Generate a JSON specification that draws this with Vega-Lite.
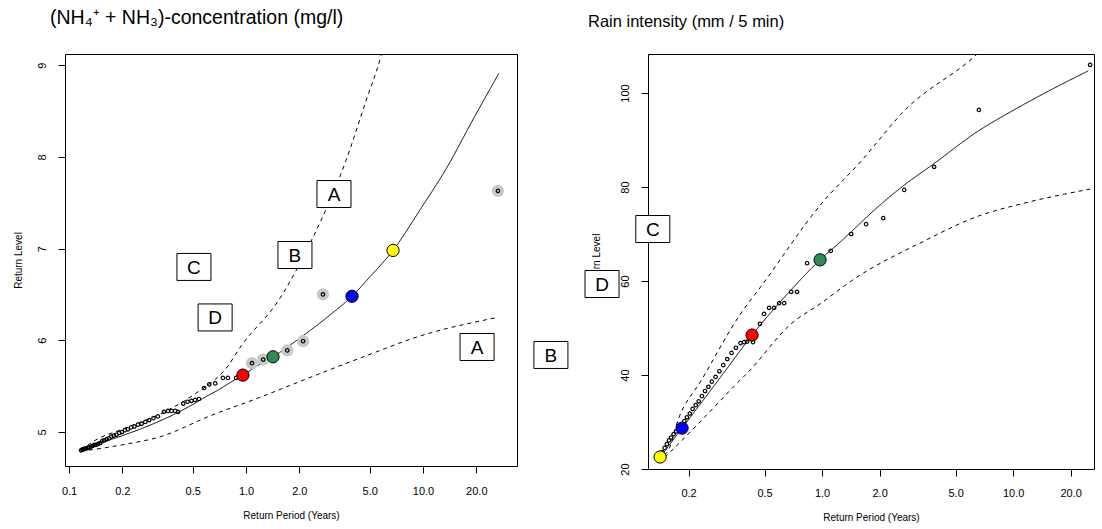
{
  "$schema": "https://vega.github.io/schema/vega-lite/v6.json",
  "padding": {"left": 12, "top": 7, "right": 0, "bottom": 0},
  "background": "white",
  "spacing": 131,
  "bounds": "flush",
  "resolve": {"scale": {"x": "independent", "y": "independent", "fill": "independent", "strokeDash": "independent"}},
  "config": {
    "view": {"stroke": "black", "strokeWidth": 1},
    "font": "Liberation Sans",
    "axis": {
      "domain": false, "grid": false, "ticks": true, "tickColor": "black", "tickSize": 7, "tickWidth": 1,
      "labelFont": "Liberation Sans", "labelFontSize": 11, "labelColor": "black", "labelFlush": false, "labelOverlap": false, "labelBound": false,
      "titleFont": "Liberation Sans", "titleFontSize": 10, "titleFontWeight": "normal", "titleColor": "black"
    },
    "title": {"font": "Liberation Sans", "fontWeight": "normal", "color": "black"}
  },
  "datasets": {
    "left_lines": [
      {"series": "fit", "T": 0.117, "v": 4.81}, {"series": "fit", "T": 0.15, "v": 4.88}, {"series": "fit", "T": 0.2, "v": 4.96},
      {"series": "fit", "T": 0.3, "v": 5.09}, {"series": "fit", "T": 0.4, "v": 5.2}, {"series": "fit", "T": 0.5, "v": 5.3},
      {"series": "fit", "T": 0.6, "v": 5.39}, {"series": "fit", "T": 0.7, "v": 5.46}, {"series": "fit", "T": 0.8, "v": 5.53},
      {"series": "fit", "T": 0.96, "v": 5.62}, {"series": "fit", "T": 1.2, "v": 5.74}, {"series": "fit", "T": 1.42, "v": 5.82},
      {"series": "fit", "T": 2.0, "v": 6.02}, {"series": "fit", "T": 3.0, "v": 6.28}, {"series": "fit", "T": 3.97, "v": 6.48},
      {"series": "fit", "T": 5.0, "v": 6.69}, {"series": "fit", "T": 6.77, "v": 6.98}, {"series": "fit", "T": 9.75, "v": 7.44},
      {"series": "fit", "T": 13.8, "v": 7.9}, {"series": "fit", "T": 18.7, "v": 8.37}, {"series": "fit", "T": 26.8, "v": 8.91},
      {"series": "upper", "T": 0.117, "v": 4.8}, {"series": "upper", "T": 0.138, "v": 4.9}, {"series": "upper", "T": 0.2, "v": 5.03},
      {"series": "upper", "T": 0.33, "v": 5.2}, {"series": "upper", "T": 0.51, "v": 5.41}, {"series": "upper", "T": 0.79, "v": 5.72},
      {"series": "upper", "T": 0.94, "v": 5.94}, {"series": "upper", "T": 1.52, "v": 6.43}, {"series": "upper", "T": 2.33, "v": 7.08},
      {"series": "upper", "T": 3.67, "v": 7.96}, {"series": "upper", "T": 4.76, "v": 8.61}, {"series": "upper", "T": 5.79, "v": 9.1},
      {"series": "upper", "T": 6.6, "v": 9.55},
      {"series": "lower", "T": 0.117, "v": 4.79}, {"series": "lower", "T": 0.2, "v": 4.86}, {"series": "lower", "T": 0.33, "v": 4.95},
      {"series": "lower", "T": 0.634, "v": 5.18}, {"series": "lower", "T": 1.17, "v": 5.37}, {"series": "lower", "T": 2.2, "v": 5.58},
      {"series": "lower", "T": 4.47, "v": 5.81}, {"series": "lower", "T": 9.75, "v": 6.05}, {"series": "lower", "T": 26.5, "v": 6.25}
    ],
    "left_gray": [
      {"T": 1.08, "v": 5.75}, {"T": 1.25, "v": 5.79}, {"T": 1.71, "v": 5.89}, {"T": 2.1, "v": 5.99}, {"T": 2.72, "v": 6.5}, {"T": 26.5, "v": 7.63}
    ],
    "left_pts": [
      {"T": 0.117, "v": 4.8}, {"T": 0.119, "v": 4.81}, {"T": 0.121, "v": 4.81}, {"T": 0.123, "v": 4.82}, {"T": 0.125, "v": 4.82},
      {"T": 0.128, "v": 4.83}, {"T": 0.13, "v": 4.83}, {"T": 0.133, "v": 4.84}, {"T": 0.136, "v": 4.85}, {"T": 0.139, "v": 4.86},
      {"T": 0.142, "v": 4.86}, {"T": 0.146, "v": 4.87}, {"T": 0.15, "v": 4.88}, {"T": 0.154, "v": 4.9}, {"T": 0.158, "v": 4.91},
      {"T": 0.163, "v": 4.92}, {"T": 0.168, "v": 4.93}, {"T": 0.173, "v": 4.95}, {"T": 0.179, "v": 4.96}, {"T": 0.185, "v": 4.97},
      {"T": 0.192, "v": 4.99}, {"T": 0.199, "v": 5.0}, {"T": 0.207, "v": 5.02}, {"T": 0.215, "v": 5.03}, {"T": 0.224, "v": 5.05},
      {"T": 0.234, "v": 5.06}, {"T": 0.245, "v": 5.08}, {"T": 0.257, "v": 5.09}, {"T": 0.27, "v": 5.11}, {"T": 0.284, "v": 5.13},
      {"T": 0.3, "v": 5.15}, {"T": 0.318, "v": 5.17}, {"T": 0.344, "v": 5.22}, {"T": 0.362, "v": 5.23}, {"T": 0.38, "v": 5.23},
      {"T": 0.398, "v": 5.23}, {"T": 0.413, "v": 5.22}, {"T": 0.442, "v": 5.31}, {"T": 0.467, "v": 5.33}, {"T": 0.492, "v": 5.34},
      {"T": 0.516, "v": 5.35}, {"T": 0.542, "v": 5.36}, {"T": 0.58, "v": 5.48}, {"T": 0.62, "v": 5.52}, {"T": 0.67, "v": 5.53},
      {"T": 0.74, "v": 5.59}, {"T": 0.79, "v": 5.59}, {"T": 0.88, "v": 5.59},
      {"T": 1.08, "v": 5.75}, {"T": 1.25, "v": 5.79}, {"T": 1.71, "v": 5.89}, {"T": 2.1, "v": 5.99}, {"T": 2.72, "v": 6.5}, {"T": 26.5, "v": 7.63}
    ],
    "left_col": [
      {"event": "E1", "T": 0.96, "v": 5.62}, {"event": "E2", "T": 1.42, "v": 5.82}, {"event": "E3", "T": 3.97, "v": 6.48}, {"event": "E4", "T": 6.77, "v": 6.98}
    ],
    "left_lab": [
      {"label": "A", "T": 3.14, "v": 7.595}, {"label": "B", "T": 1.89, "v": 6.93}, {"label": "C", "T": 0.508, "v": 6.8},
      {"label": "D", "T": 0.669, "v": 6.249}, {"label": "A", "T": 20.2, "v": 5.927}, {"label": "B", "T": 52.8, "v": 5.84}
    ],
    "right_lines": [
      {"series": "fit", "T": 0.145, "v": 23.0}, {"series": "fit", "T": 0.185, "v": 28.7}, {"series": "fit", "T": 0.3, "v": 40.0},
      {"series": "fit", "T": 0.43, "v": 48.5}, {"series": "fit", "T": 0.65, "v": 57.0}, {"series": "fit", "T": 0.976, "v": 64.5},
      {"series": "fit", "T": 1.26, "v": 68.5}, {"series": "fit", "T": 2.04, "v": 76.4}, {"series": "fit", "T": 2.69, "v": 80.4},
      {"series": "fit", "T": 3.86, "v": 85.0}, {"series": "fit", "T": 6.56, "v": 91.9}, {"series": "fit", "T": 9.42, "v": 95.7},
      {"series": "fit", "T": 15.3, "v": 100.4}, {"series": "fit", "T": 24.7, "v": 104.7},
      {"series": "upper", "T": 0.15, "v": 23.0}, {"series": "upper", "T": 0.156, "v": 23.8}, {"series": "upper", "T": 0.178, "v": 30.9},
      {"series": "upper", "T": 0.232, "v": 38.7}, {"series": "upper", "T": 0.377, "v": 53.2}, {"series": "upper", "T": 0.48, "v": 58.9},
      {"series": "upper", "T": 0.99, "v": 76.4}, {"series": "upper", "T": 1.6, "v": 85.5}, {"series": "upper", "T": 2.69, "v": 96.2},
      {"series": "upper", "T": 6.56, "v": 108.5}, {"series": "upper", "T": 8.0, "v": 112.0},
      {"series": "lower", "T": 0.15, "v": 22.5}, {"series": "lower", "T": 0.162, "v": 23.8}, {"series": "lower", "T": 0.241, "v": 30.9},
      {"series": "lower", "T": 0.346, "v": 37.6}, {"series": "lower", "T": 0.41, "v": 40.6}, {"series": "lower", "T": 0.689, "v": 50.9},
      {"series": "lower", "T": 0.99, "v": 55.3}, {"series": "lower", "T": 1.42, "v": 60.0}, {"series": "lower", "T": 3.42, "v": 68.5},
      {"series": "lower", "T": 6.56, "v": 73.8}, {"series": "lower", "T": 11.0, "v": 76.4}, {"series": "lower", "T": 25.6, "v": 79.6}
    ],
    "right_pts": [
      {"T": 0.146, "v": 23.6}, {"T": 0.15, "v": 24.5}, {"T": 0.154, "v": 25.3}, {"T": 0.158, "v": 26.1}, {"T": 0.162, "v": 26.7},
      {"T": 0.167, "v": 27.4}, {"T": 0.172, "v": 28.0}, {"T": 0.178, "v": 28.9}, {"T": 0.19, "v": 30.2}, {"T": 0.196, "v": 31.0},
      {"T": 0.203, "v": 31.8}, {"T": 0.21, "v": 32.8}, {"T": 0.218, "v": 33.6}, {"T": 0.226, "v": 34.4}, {"T": 0.235, "v": 35.5},
      {"T": 0.244, "v": 36.6}, {"T": 0.254, "v": 37.5}, {"T": 0.265, "v": 38.6}, {"T": 0.277, "v": 39.6}, {"T": 0.29, "v": 40.8},
      {"T": 0.304, "v": 42.1}, {"T": 0.319, "v": 43.4}, {"T": 0.336, "v": 44.7}, {"T": 0.354, "v": 45.8}, {"T": 0.374, "v": 46.8},
      {"T": 0.391, "v": 47.0}, {"T": 0.405, "v": 47.1}, {"T": 0.435, "v": 47.0}, {"T": 0.473, "v": 50.9}, {"T": 0.497, "v": 53.0},
      {"T": 0.528, "v": 54.3}, {"T": 0.561, "v": 54.3}, {"T": 0.596, "v": 55.3}, {"T": 0.633, "v": 55.3}, {"T": 0.689, "v": 57.7},
      {"T": 0.74, "v": 57.7}, {"T": 0.835, "v": 63.8}, {"T": 1.11, "v": 66.4}, {"T": 1.42, "v": 70.0}, {"T": 1.7, "v": 72.1},
      {"T": 2.09, "v": 73.4}, {"T": 2.69, "v": 79.4}, {"T": 3.86, "v": 84.3}, {"T": 6.62, "v": 96.4}, {"T": 25.3, "v": 106.0}
    ],
    "right_col": [
      {"event": "E1", "T": 0.43, "v": 48.5}, {"event": "E2", "T": 0.976, "v": 64.5}, {"event": "E3", "T": 0.185, "v": 28.7}, {"event": "E4", "T": 0.142, "v": 22.55}
    ],
    "right_lab": [
      {"label": "C", "T": 0.13, "v": 71.06}, {"label": "D", "T": 0.0705, "v": 59.36}
    ]
  },
  "hconcat": [
    {
      "width": 452,
      "height": 412,
      "title": {"text": "(NH₄⁺ + NH₃)-concentration (mg/l)", "anchor": "start", "frame": "group", "dx": -15, "offset": 11, "baseline": "alphabetic", "fontSize": 19.5},
      "encoding": {
        "x": {"field": "T", "type": "quantitative",
              "scale": {"type": "log", "domain": [0.0949, 33.96], "nice": false},
              "axis": {"values": [0.1, 0.2, 0.5, 1, 2, 5, 10, 20], "format": ".1f", "title": "Return Period (Years)", "labelPadding": 12, "titlePadding": 14}},
        "y": {"field": "v", "type": "quantitative",
              "scale": {"domain": [4.629, 9.122], "nice": false, "zero": false},
              "axis": {"values": [5, 6, 7, 8, 9], "format": "d", "labelAngle": 270, "title": "Return Level", "labelPadding": 11, "titlePadding": 13}}
      },
      "layer": [
        {"data": {"name": "left_lines"},
         "mark": {"type": "line", "color": "black", "strokeWidth": 1, "clip": true, "interpolate": "monotone"},
         "encoding": {"detail": {"field": "series", "type": "nominal"},
                      "strokeDash": {"field": "series", "type": "nominal", "scale": {"domain": ["fit", "lower", "upper"], "range": [[1, 0], [4, 4], [4, 4]]}, "legend": null}}},
        {"data": {"name": "left_gray"},
         "mark": {"type": "point", "shape": "circle", "filled": true, "fill": "#c8c8c8", "strokeWidth": 0, "size": 150, "opacity": 1}},
        {"data": {"name": "left_pts"},
         "mark": {"type": "point", "shape": "circle", "filled": false, "stroke": "black", "strokeWidth": 1.2, "size": 12, "opacity": 1}},
        {"data": {"name": "left_col"},
         "mark": {"type": "point", "shape": "circle", "filled": true, "stroke": "black", "strokeWidth": 1, "size": 150, "opacity": 1},
         "encoding": {"fill": {"field": "event", "type": "nominal", "scale": {"domain": ["E1", "E2", "E3", "E4"], "range": ["#ff0000", "#2e8b57", "#0000ff", "#ffff00"]}, "legend": null}}},
        {"data": {"name": "left_lab"},
         "mark": {"type": "point", "shape": "M-1.26,-1H1.26V1H-1.26Z", "filled": true, "fill": "white", "stroke": "black", "strokeWidth": 1, "size": 729, "opacity": 1, "clip": false}},
        {"data": {"name": "left_lab"},
         "mark": {"type": "text", "font": "Liberation Sans", "fontSize": 19, "align": "center", "baseline": "middle", "dy": 1, "color": "black", "clip": false},
         "encoding": {"text": {"field": "label", "type": "nominal"}}}
      ]
    },
    {
      "width": 446,
      "height": 415,
      "title": {"text": "Rain intensity (mm / 5 min)", "anchor": "start", "frame": "group", "dx": -60, "offset": 11, "baseline": "alphabetic", "fontSize": 16.5},
      "encoding": {
        "x": {"field": "T", "type": "quantitative",
              "scale": {"type": "log", "domain": [0.1227, 26.5], "nice": false},
              "axis": {"values": [0.2, 0.5, 1, 2, 5, 10, 20], "format": ".1f", "title": "Return Period (Years)", "labelPadding": 11, "titlePadding": 14}},
        "y": {"field": "v", "type": "quantitative",
              "scale": {"domain": [20.0, 108.3], "nice": false, "zero": false},
              "axis": {"values": [20, 40, 60, 80, 100], "format": "d", "labelAngle": 270, "title": "Return Level", "labelPadding": 11, "titlePadding": 18}}
      },
      "layer": [
        {"data": {"name": "right_lines"},
         "mark": {"type": "line", "color": "black", "strokeWidth": 1, "clip": true, "interpolate": "monotone"},
         "encoding": {"detail": {"field": "series", "type": "nominal"},
                      "strokeDash": {"field": "series", "type": "nominal", "scale": {"domain": ["fit", "lower", "upper"], "range": [[1, 0], [4, 4], [4, 4]]}, "legend": null}}},
        {"data": {"name": "right_pts"},
         "mark": {"type": "point", "shape": "circle", "filled": false, "stroke": "black", "strokeWidth": 1.2, "size": 12, "opacity": 1}},
        {"data": {"name": "right_col"},
         "mark": {"type": "point", "shape": "circle", "filled": true, "stroke": "black", "strokeWidth": 1, "size": 150, "opacity": 1},
         "encoding": {"fill": {"field": "event", "type": "nominal", "scale": {"domain": ["E1", "E2", "E3", "E4"], "range": ["#ff0000", "#2e8b57", "#0000ff", "#ffff00"]}, "legend": null}}},
        {"data": {"name": "right_lab"},
         "mark": {"type": "point", "shape": "M-1.26,-1H1.26V1H-1.26Z", "filled": true, "fill": "white", "stroke": "black", "strokeWidth": 1, "size": 729, "opacity": 1, "clip": false}},
        {"data": {"name": "right_lab"},
         "mark": {"type": "text", "font": "Liberation Sans", "fontSize": 19, "align": "center", "baseline": "middle", "dy": 1, "color": "black", "clip": false},
         "encoding": {"text": {"field": "label", "type": "nominal"}}}
      ]
    }
  ]
}
